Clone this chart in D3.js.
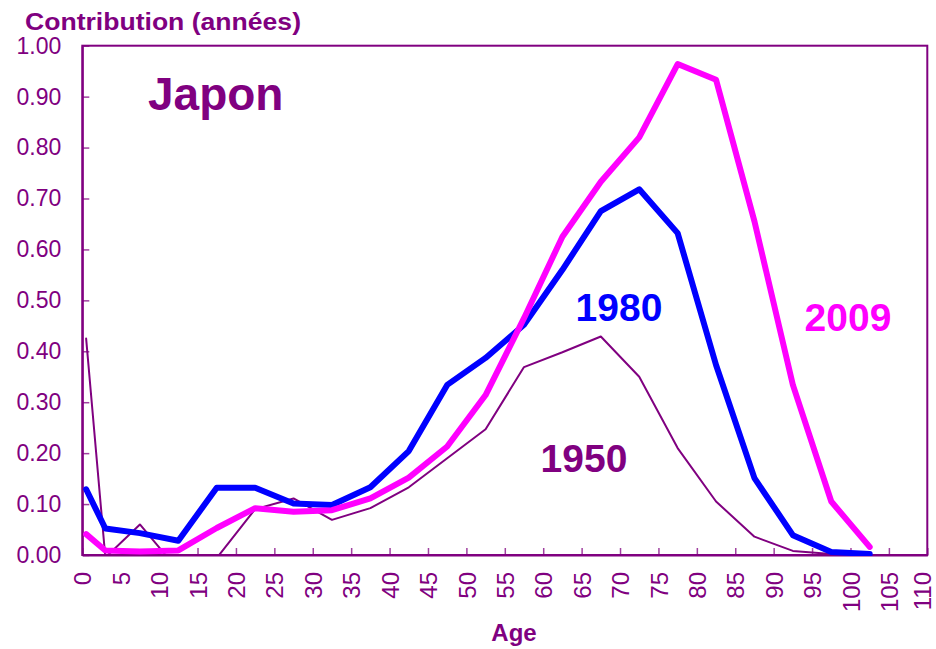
<!DOCTYPE html>
<html>
<head>
<meta charset="utf-8">
<script src="https://cdn.jsdelivr.net/npm/d3@7"></script>
<style>
  html, body { margin: 0; padding: 0; background: #ffffff; }
  svg { display: block; }
  text { font-family: "Liberation Sans", Arial, sans-serif; }
</style>
</head>
<body>
<svg id="chart" width="936" height="649"></svg>
<script>
// ---- data ----
const ages = [0.5, 3, 7.5, 12.5, 17.5, 22.5, 27.5, 32.5, 37.5, 42.5, 47.5, 52.5, 57.5, 62.5, 67.5, 72.5, 77.5, 82.5, 87.5, 92.5, 97.5, 102.5];
const values1950 = [0.425, -0.005, 0.06, -0.03, -0.006, 0.09, 0.111, 0.069, 0.092, 0.133, 0.19, 0.247, 0.369, 0.398, 0.429, 0.35, 0.21, 0.105, 0.036, 0.008, 0.002, 0.0];
const values1980 = [0.129, 0.052, 0.043, 0.028, 0.132, 0.132, 0.101, 0.098, 0.133, 0.204, 0.334, 0.387, 0.452, 0.56, 0.675, 0.718, 0.632, 0.373, 0.151, 0.039, 0.006, 0.002];
const values2009 = [0.041, 0.009, 0.007, 0.009, 0.053, 0.092, 0.085, 0.088, 0.111, 0.152, 0.213, 0.314, 0.465, 0.625, 0.733, 0.82, 0.964, 0.933, 0.655, 0.334, 0.105, 0.016];
const xTicks = [0, 5, 10, 15, 20, 25, 30, 35, 40, 45, 50, 55, 60, 65, 70, 75, 80, 85, 90, 95, 100, 105, 110];
const yTicks = [0, 0.1, 0.2, 0.3, 0.4, 0.5, 0.6, 0.7, 0.8, 0.9, 1.0];
const seriesNames = ["1950", "1980", "2009"];
const titleText = "Contribution (années)";
const countryText = "Japon";
const xAxisTitle = "Age";

// ---- styles ----
const PURPLE = "#800080", BLUE = "#0000ff", MAGENTA = "#ff00ff";

const svg = d3.select("#chart");
const pLeft = 82.3, pRight = 927.3, pTop = 45.7, pBottom = 555;

const x = d3.scaleLinear().domain([0, 110]).range([pLeft, pRight]);
const y = d3.scaleLinear().domain([0, 1]).range([pBottom, pTop]);

// clip
svg.append("defs").append("clipPath").attr("id", "plotclip")
  .append("rect").attr("x", pLeft).attr("y", pTop).attr("width", pRight - pLeft).attr("height", pBottom - pTop + 1);

// frame
svg.append("rect")
  .attr("x", pLeft).attr("y", pTop).attr("width", pRight - pLeft).attr("height", pBottom - pTop)
  .attr("fill", "none").attr("stroke", PURPLE).attr("stroke-width", 2);

// y axis
const yAxis = svg.append("g").attr("transform", `translate(${pLeft},0)`)
  .call(d3.axisLeft(y).tickValues(yTicks).tickFormat(d3.format(".2f")).tickSizeInner(-7).tickSizeOuter(0).tickPadding(21));
yAxis.select(".domain").attr("stroke", PURPLE).attr("stroke-width", 2);
yAxis.selectAll(".tick line").attr("stroke", PURPLE).attr("stroke-width", 1.5).attr("stroke-opacity", 0.75);
yAxis.selectAll(".tick text").attr("fill", PURPLE).style("font-size", "23px");

// x axis
const xAxis = svg.append("g").attr("transform", `translate(0,${pBottom})`)
  .call(d3.axisBottom(x).tickValues(xTicks).tickFormat(d3.format("d")).tickSizeInner(-7).tickSizeOuter(0));
xAxis.select(".domain").attr("stroke", PURPLE).attr("stroke-width", 2);
xAxis.selectAll(".tick line").attr("stroke", PURPLE).attr("stroke-width", 1.5).attr("stroke-opacity", 0.75);
xAxis.selectAll(".tick text")
  .attr("fill", PURPLE).style("font-size", "24px")
  .attr("transform", "rotate(-90)")
  .attr("text-anchor", "end")
  .attr("x", -17)
  .attr("y", (d, i, n) => (i === n.length - 1 ? -5.5 : 0))
  .attr("dy", "0.36em");

// lines
const line = d3.line().x((d, i) => x(ages[i])).y(d => y(d));
const series = [
  { name: seriesNames[0], values: values1950, color: PURPLE, width: 2 },
  { name: seriesNames[1], values: values1980, color: BLUE, width: 6 },
  { name: seriesNames[2], values: values2009, color: MAGENTA, width: 6 }
];
const lg = svg.append("g").attr("clip-path", "url(#plotclip)");
series.forEach(s => {
  lg.append("path").datum(s.values)
    .attr("d", line)
    .attr("fill", "none")
    .attr("stroke", s.color)
    .attr("stroke-width", s.width)
    .attr("stroke-linejoin", "round")
    .attr("stroke-linecap", "round");
});

// texts
svg.append("text").attr("x", 25).attr("y", 30)
  .attr("fill", PURPLE).attr("font-weight", "bold").style("font-size", "24px")
  .attr("textLength", 276).attr("lengthAdjust", "spacingAndGlyphs")
  .text(titleText);

svg.append("text").attr("x", 148).attr("y", 110)
  .attr("fill", PURPLE).attr("font-weight", "bold").style("font-size", "46px")
  .text(countryText);

svg.append("text").attr("x", 514).attr("y", 641).attr("text-anchor", "middle")
  .attr("fill", PURPLE).attr("font-weight", "bold").style("font-size", "24px")
  .text(xAxisTitle);

const seriesLabels = [
  { text: seriesNames[0], cx: 584, by: 472, color: PURPLE },
  { text: seriesNames[1], cx: 619, by: 321, color: BLUE },
  { text: seriesNames[2], cx: 848, by: 331, color: MAGENTA }
];
seriesLabels.forEach(l => {
  svg.append("text").attr("x", l.cx).attr("y", l.by).attr("text-anchor", "middle")
    .attr("fill", l.color).attr("font-weight", "bold").style("font-size", "39px")
    .text(l.text);
});
</script>
</body>
</html>
